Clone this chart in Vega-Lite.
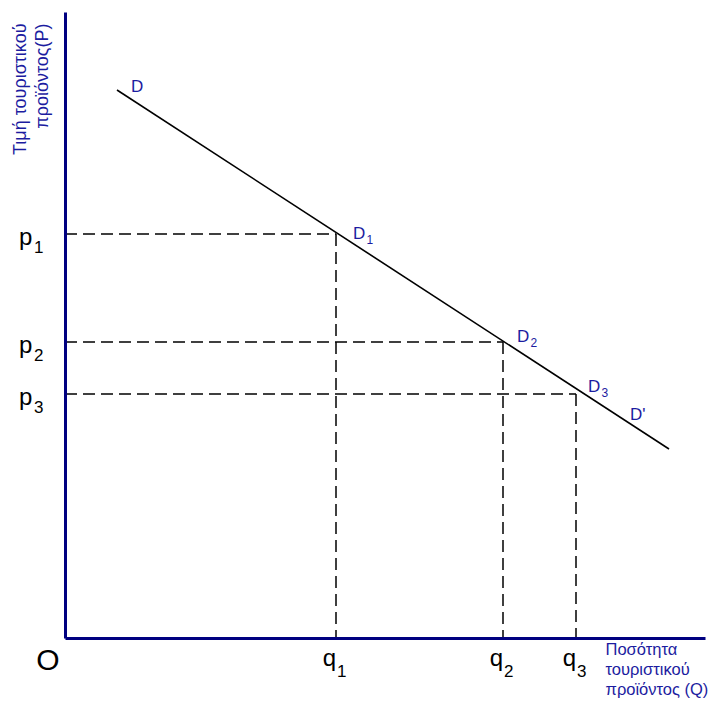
{
  "$schema": "https://vega.github.io/schema/vega-lite/v6.json",
  "width": 640,
  "height": 626,
  "autosize": {"type": "none"},
  "padding": {"left": 65, "top": 12, "right": 12, "bottom": 66},
  "background": "white",
  "config": {"view": {"stroke": null}, "font": "Liberation Sans"},
  "datasets": {
    "demand": [{"Q": 52, "P": 548}, {"Q": 604, "P": 189}],
    "points": [
      {"Q": 271, "P": 404, "i": "1"},
      {"Q": 438, "P": 296, "i": "2"},
      {"Q": 511, "P": 244, "i": "3"}
    ],
    "labels": [
      {"Q": 66, "P": 546, "t": "D", "s": ""},
      {"Q": 288, "P": 399, "t": "D", "s": "1"},
      {"Q": 452, "P": 296, "t": "D", "s": "2"},
      {"Q": 523, "P": 246, "t": "D", "s": "3"},
      {"Q": 565, "P": 218, "t": "D'", "s": ""}
    ],
    "origin": [{"Q": 0, "P": 0, "t": "O"}]
  },
  "encoding": {
    "x": {
      "field": "Q",
      "type": "quantitative",
      "scale": {"domain": [0, 640], "nice": false, "zero": false},
      "axis": {
        "zindex": 1,
        "domainColor": "#000080",
        "domainWidth": 3,
        "ticks": false,
        "labels": false,
        "grid": false,
        "title": ["Ποσότητα", "τουριστικού", "προϊόντος (Q)"],
        "titleColor": "#1c1ca0",
        "titleFont": "Liberation Sans",
        "titleFontSize": 16.5,
        "titleFontWeight": "normal",
        "titleAlign": "left",
        "titleBaseline": "alphabetic",
        "titleLineHeight": 20,
        "titleX": 540,
        "titleY": 16
      }
    },
    "y": {
      "field": "P",
      "type": "quantitative",
      "scale": {"domain": [0, 626], "nice": false, "zero": false},
      "axis": {
        "zindex": 1,
        "domainColor": "#000080",
        "domainWidth": 3,
        "ticks": false,
        "labels": false,
        "grid": false,
        "title": ["Τιμή τουριστικού", "προϊόντος(P)"],
        "titleColor": "#1c1ca0",
        "titleFont": "Liberation Sans",
        "titleFontSize": 18,
        "titleFontWeight": "normal",
        "titleAngle": 270,
        "titleAlign": "right",
        "titleBaseline": "alphabetic",
        "titleLineHeight": 22,
        "titleX": -40,
        "titleY": 11
      }
    }
  },
  "layer": [
    {
      "data": {"name": "points"},
      "mark": {"type": "rule", "color": "black", "strokeWidth": 1.5, "strokeDash": [12, 6]},
      "encoding": {"x": {"datum": 0}, "x2": {"field": "Q"}}
    },
    {
      "data": {"name": "points"},
      "mark": {"type": "rule", "color": "black", "strokeWidth": 1.5, "strokeDash": [12, 6]},
      "encoding": {"y2": {"datum": 0}}
    },
    {
      "data": {"name": "demand"},
      "mark": {"type": "line", "color": "black", "strokeWidth": 1.6},
      "encoding": {}
    },
    {
      "data": {"name": "labels"},
      "mark": {"type": "text", "align": "left", "baseline": "alphabetic", "fontSize": 17, "color": "#1c1ca0"},
      "encoding": {"text": {"field": "t"}}
    },
    {
      "data": {"name": "labels"},
      "mark": {"type": "text", "align": "left", "baseline": "alphabetic", "fontSize": 12, "color": "#1c1ca0", "dx": 13.5, "dy": 5},
      "encoding": {"text": {"field": "s"}}
    },
    {
      "data": {"name": "points"},
      "mark": {"type": "text", "align": "left", "baseline": "alphabetic", "fontSize": 24, "color": "black", "dx": -46, "dy": 11},
      "encoding": {"x": {"datum": 0}, "text": {"value": "p"}}
    },
    {
      "data": {"name": "points"},
      "mark": {"type": "text", "align": "left", "baseline": "alphabetic", "fontSize": 17, "color": "black", "dx": -31, "dy": 19},
      "encoding": {"x": {"datum": 0}, "text": {"field": "i"}}
    },
    {
      "data": {"name": "points"},
      "mark": {"type": "text", "align": "right", "baseline": "alphabetic", "fontSize": 24, "color": "black", "dx": 0, "dy": 28},
      "encoding": {"y": {"datum": 0}, "text": {"value": "q"}}
    },
    {
      "data": {"name": "points"},
      "mark": {"type": "text", "align": "left", "baseline": "alphabetic", "fontSize": 17, "color": "black", "dx": 1, "dy": 39},
      "encoding": {"y": {"datum": 0}, "text": {"field": "i"}}
    },
    {
      "data": {"name": "origin"},
      "mark": {"type": "text", "align": "center", "baseline": "alphabetic", "fontSize": 30, "color": "black", "dx": -17, "dy": 32},
      "encoding": {"text": {"field": "t"}}
    }
  ]
}
